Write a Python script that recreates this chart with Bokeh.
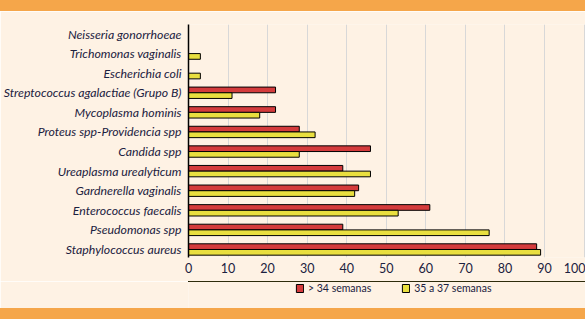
from bokeh.plotting import figure
from bokeh.models import Range1d, FixedTicker, Legend, LegendItem, ColumnDataSource, Div
from bokeh.layouts import column
from bokeh.transform import dodge
from bokeh.embed import file_html
from bokeh.resources import INLINE

species = [
    "Neisseria gonorrhoeae",
    "Trichomonas vaginalis",
    "Escherichia coli",
    "Streptococcus agalactiae (Grupo B)",
    "Mycoplasma hominis",
    "Proteus spp-Providencia spp",
    "Candida spp",
    "Ureaplasma urealyticum",
    "Gardnerella vaginalis",
    "Enterococcus faecalis",
    "Pseudomonas spp",
    "Staphylococcus aureus",
]
over_34 = [0, 0, 0, 22, 22, 28, 46, 39, 43, 61, 39, 88]
weeks_35_37 = [0, 3, 3, 11, 18, 32, 28, 46, 42, 53, 76, 89]
series_names = ["> 34 semanas", "35 a 37 semanas"]
x_ticks = [0, 10, 20, 30, 40, 50, 60, 70, 80, 90, 100]

BG = "#fef2e4"
ORANGE = "#f5a64a"
RED = "#d43b3c"
YELLOW = "#e9df3f"
TXT = "#1b2140"
FONT = "Lato"

pos = list(range(len(species)))
src = ColumnDataSource(dict(y=pos, a=over_34, b=weeks_35_37))
bar_style = dict(height=0.29, left=0, line_color="black", line_width=1)

# main chart
p = figure(width=585, height=270, output_backend="svg", toolbar_location=None,
           x_range=Range1d(0, 100.35), y_range=Range1d(11.409, -0.485),
           min_border_left=187, min_border_right=0, min_border_top=13,
           min_border_bottom=24, margin=0)
p.background_fill_color = BG
p.border_fill_color = BG
p.outline_line_color = None

p.hbar(y=dodge("y", -0.145), right="a", source=src, fill_color=RED, **bar_style)
p.hbar(y=dodge("y", 0.145), right="b", source=src, fill_color=YELLOW, **bar_style)

p.ygrid.grid_line_color = None
p.xgrid.grid_line_color = "#d8d8d8"
p.xgrid.ticker = FixedTicker(ticks=x_ticks)

ya = p.yaxis[0]
ya.ticker = FixedTicker(ticks=pos)
ya.major_label_overrides = {i: s for i, s in enumerate(species)}
ya.major_label_text_font = FONT
ya.major_label_text_font_style = "italic"
ya.major_label_text_font_size = "12.3px"
ya.major_label_text_color = TXT
ya.major_tick_line_color = None
ya.minor_tick_line_color = None
ya.major_tick_out = 0
ya.major_tick_in = 0
ya.major_label_standoff = 7
ya.axis_line_color = "black"
ya.axis_line_width = 1.5

xa = p.xaxis[0]
xa.ticker = FixedTicker(ticks=x_ticks)
xa.major_label_text_font = FONT
xa.major_label_text_font_size = "12.5px"
xa.major_label_text_color = TXT
xa.axis_line_color = None
xa.major_tick_line_color = None
xa.minor_tick_line_color = None
xa.major_tick_out = 0
xa.major_tick_in = 0
xa.major_label_standoff = 5

# legend strip (own small figure so that the legend is not clipped);
# its bars use the same data but lie outside its visible range
lg = figure(width=585, height=27, output_backend="svg", toolbar_location=None,
            x_axis_type=None, y_axis_type=None, min_border=0, margin=0,
            x_range=Range1d(0, 1), y_range=Range1d(-50, -49))
lg.background_fill_color = BG
lg.border_fill_color = BG
lg.outline_line_color = None
lg.grid.visible = False
g1 = lg.hbar(y="y", right="a", source=src, fill_color=RED, **bar_style)
g2 = lg.hbar(y="y", right="b", source=src, fill_color=YELLOW, **bar_style)
legend = Legend(items=[LegendItem(label=series_names[0], renderers=[g1]),
                       LegendItem(label=series_names[1], renderers=[g2])],
                orientation="horizontal", location=(107, 13),
                glyph_width=9, glyph_height=10, label_standoff=4, spacing=30,
                padding=0, margin=0, label_height=14,
                label_text_font=FONT, label_text_font_size="10.5px",
                label_text_color=TXT, background_fill_alpha=0,
                border_line_color=None)
lg.add_layout(legend, "center")

top_band = Div(text="", width=585, height=11, margin=0,
               styles={"background-color": ORANGE})
bottom_band = Div(text="", width=585, height=11, margin=0,
                  styles={"background-color": ORANGE})

layout = column(top_band, p, lg, bottom_band, spacing=0, margin=0)
open("out.html", "w").write(file_html(layout, INLINE))
